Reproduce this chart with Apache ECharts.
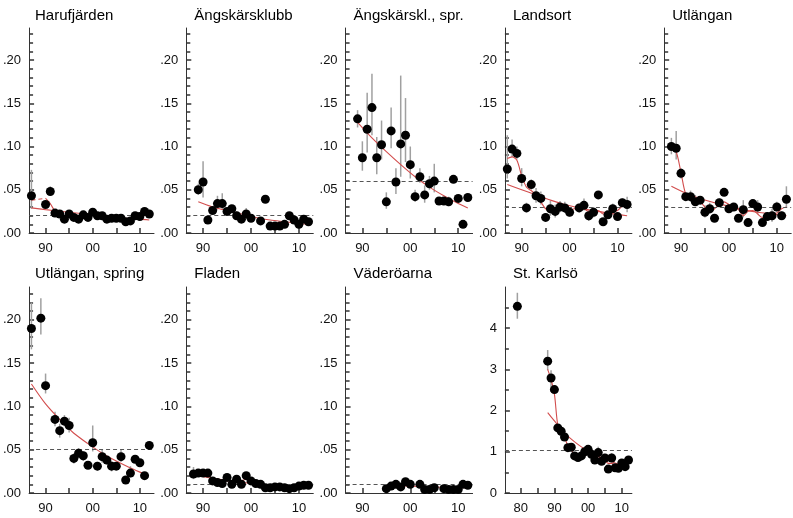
<!DOCTYPE html>
<html><head><meta charset="utf-8">
<script src="https://cdn.jsdelivr.net/npm/echarts@6/dist/echarts.min.js"></script>
<style>html,body{margin:0;padding:0;background:#fff}#c{width:793px;height:518px}</style>
</head><body><div id="c"></div>
<script>
// ---------- Tick / label positions ----------
const propLabels = [0, 0.05, 0.10, 0.15, 0.20];
const propMinor = [0.01,0.02,0.03,0.04,0.06,0.07,0.08,0.09,0.11,0.12,0.13,0.14,0.16,0.17,0.18,0.19,0.21,0.22,0.23];
const karlLabels = [0, 1, 2, 3, 4];
const karlMinor = [0.5, 1.5, 2.5, 3.5, 4.5];
const yearTicks = [1990, 1995, 2000, 2005, 2010];
const yearLabels = [1990, 2000, 2010];
const karlYearTicks = [1980, 1985, 1990, 1995, 2000, 2005, 2010];
const karlYearLabels = [1980, 1990, 2000, 2010];

// ---------- Harufjärden ----------
const haruYears = [1987,1990,1991,1992,1993,1994,1995,1996,1997,1998,1999,2000,2001,2002,2003,2004,2005,2006,2007,2008,2009,2010,2011,2012];
const haruVals  = [0.043,0.033,0.048,0.023,0.022,0.016,0.022,0.018,0.016,0.021,0.018,0.024,0.020,0.020,0.016,0.017,0.017,0.017,0.013,0.014,0.020,0.019,0.025,0.022];
const haruLo    = [0.028,0.030,0.043,0.021,0.020,0.014,0.020,0.016,0.014,0.019,0.016,0.022,0.018,0.018,0.014,0.015,0.015,0.015,0.011,0.012,0.018,0.017,0.022,0.020];
const haruHi    = [0.073,0.036,0.054,0.025,0.024,0.018,0.024,0.020,0.018,0.023,0.020,0.026,0.022,0.022,0.018,0.019,0.019,0.019,0.015,0.016,0.022,0.021,0.028,0.024];
const haruRef = 0.021;
const haruFitX = [1987,1990,1995,2000,2005,2010,2012];
const haruFitY = [0.029,0.027,0.024,0.021,0.018,0.016,0.015];
const haruSmX  = [1990,1991,1992,1993,1994,1995,1996,1997,1998,1999,2000,2001,2002,2003,2004,2005,2006,2007,2008,2009,2010,2011,2012];
const haruSmY  = [0.040,0.034,0.025,0.021,0.019,0.019,0.018,0.018,0.019,0.020,0.021,0.020,0.019,0.018,0.017,0.017,0.016,0.015,0.016,0.018,0.020,0.022,0.022];
const haruGapX = [1987,1990];
const haruGapY = [0.038,0.040];

// ---------- Ängskärsklubb ----------
const angYears = [1989,1990,1991,1992,1993,1994,1995,1996,1997,1998,1999,2000,2002,2003,2004,2005,2006,2007,2008,2009,2010,2011,2012];
const angVals  = [0.050,0.059,0.015,0.026,0.034,0.034,0.025,0.028,0.020,0.016,0.022,0.017,0.014,0.039,0.008,0.008,0.008,0.010,0.020,0.015,0.010,0.016,0.013];
const angLo    = [0.044,0.041,0.013,0.023,0.027,0.027,0.022,0.024,0.016,0.013,0.018,0.015,0.012,0.037,0.007,0.007,0.007,0.009,0.018,0.013,0.009,0.014,0.011];
const angHi    = [0.057,0.083,0.017,0.030,0.043,0.046,0.028,0.032,0.025,0.019,0.029,0.019,0.016,0.041,0.009,0.009,0.009,0.011,0.022,0.017,0.011,0.018,0.015];
const angRef = 0.019;
const angFitX = [1989,1992,1995,1998,2001,2004,2007,2010,2012];
const angFitY = [0.036,0.030,0.026,0.022,0.018,0.015,0.013,0.011,0.010];

// ---------- Ängskärskl., spr. ----------
const angsYears = [1989,1990,1991,1992,1993,1994,1995,1996,1997,1998,1999,2000,2001,2002,2003,2004,2005,2006,2007,2008,2009,2010,2011,2012];
const angsVals  = [0.132,0.087,0.120,0.145,0.087,0.102,0.036,0.118,0.059,0.103,0.113,0.079,0.042,0.065,0.044,0.057,0.060,0.037,0.037,0.036,0.062,0.040,0.010,0.041];
const angsLo    = [0.122,0.072,0.093,0.113,0.068,0.085,0.028,0.098,0.045,0.065,0.082,0.063,0.036,0.058,0.035,0.050,0.047,0.034,0.033,0.031,0.059,0.037,0.008,0.038];
const angsHi    = [0.142,0.106,0.162,0.184,0.111,0.130,0.047,0.145,0.075,0.182,0.156,0.100,0.050,0.075,0.055,0.066,0.080,0.040,0.040,0.042,0.065,0.044,0.012,0.044];
const angsRef = 0.061;
const angsFitX = [1989,1992,1995,1998,2001,2004,2007,2010,2012];
const angsFitY = [0.128,0.110,0.094,0.079,0.065,0.053,0.043,0.034,0.029];

// ---------- Landsort ----------
const landYears = [1987,1988,1989,1990,1991,1992,1993,1994,1995,1996,1997,1998,1999,2000,2002,2003,2004,2005,2006,2007,2008,2009,2010,2011,2012];
const landVals  = [0.074,0.097,0.092,0.063,0.029,0.056,0.043,0.040,0.018,0.028,0.025,0.030,0.029,0.024,0.029,0.032,0.020,0.024,0.044,0.013,0.021,0.028,0.019,0.035,0.033];
const landLo    = [0.063,0.088,0.085,0.054,0.024,0.050,0.035,0.033,0.014,0.020,0.018,0.024,0.023,0.019,0.024,0.026,0.014,0.018,0.040,0.010,0.018,0.023,0.016,0.030,0.024];
const landHi    = [0.113,0.108,0.100,0.075,0.035,0.062,0.052,0.048,0.023,0.037,0.033,0.037,0.036,0.030,0.034,0.040,0.027,0.030,0.048,0.016,0.025,0.034,0.023,0.040,0.042];
const landRef = 0.033;
const landFitX = [1987,1990,1993,1996,1999,2002,2005,2008,2012];
const landFitY = [0.056,0.050,0.044,0.038,0.033,0.029,0.026,0.023,0.020];
const landSmX  = [1987,1988,1989,1990,1991,1992,1993,1994,1995,1996,1997,1998,1999,2000,2002,2003,2004,2005,2006,2007,2008,2009,2010,2011,2012];
const landSmY  = [0.086,0.088,0.084,0.066,0.053,0.049,0.044,0.036,0.028,0.026,0.027,0.029,0.028,0.027,0.029,0.028,0.025,0.026,0.026,0.022,0.022,0.024,0.026,0.031,0.035];

// ---------- Utlängan ----------
const utlYears = [1988,1989,1990,1991,1992,1993,1994,1995,1996,1997,1998,1999,2000,2001,2002,2003,2004,2005,2006,2007,2008,2009,2010,2011,2012];
const utlVals  = [0.100,0.098,0.069,0.042,0.042,0.036,0.038,0.024,0.028,0.017,0.035,0.047,0.028,0.030,0.017,0.027,0.012,0.034,0.030,0.012,0.019,0.020,0.030,0.020,0.039];
const utlLo    = [0.091,0.085,0.063,0.038,0.036,0.032,0.034,0.018,0.022,0.014,0.030,0.043,0.024,0.026,0.014,0.018,0.010,0.029,0.022,0.010,0.015,0.013,0.025,0.015,0.030];
const utlHi    = [0.110,0.118,0.075,0.046,0.049,0.044,0.042,0.032,0.035,0.020,0.040,0.052,0.033,0.034,0.020,0.038,0.015,0.039,0.038,0.014,0.024,0.028,0.036,0.025,0.054];
const utlRef = 0.031;
const utlFitX = [1988,1991,1994,1997,2000,2003,2006,2009,2012];
const utlFitY = [0.054,0.046,0.040,0.035,0.031,0.027,0.024,0.022,0.020];
const utlSmX  = utlYears;
const utlSmY  = [0.100,0.094,0.070,0.045,0.042,0.039,0.036,0.030,0.025,0.028,0.033,0.036,0.033,0.030,0.027,0.020,0.025,0.026,0.022,0.018,0.019,0.022,0.023,0.028,0.030];

// ---------- Utlängan, spring ----------
const utsYears = [1987,1989,1990,1992,1993,1994,1995,1996,1997,1998,1999,2000,2001,2002,2003,2004,2005,2006,2007,2008,2009,2010,2011,2012];
const utsVals  = [0.190,0.202,0.124,0.085,0.072,0.083,0.078,0.040,0.046,0.043,0.032,0.058,0.031,0.042,0.038,0.031,0.031,0.042,0.015,0.023,0.039,0.035,0.020,0.055];
const utsLo    = [0.166,0.183,0.115,0.077,0.064,0.077,0.070,0.034,0.040,0.037,0.029,0.048,0.026,0.035,0.033,0.025,0.028,0.036,0.011,0.018,0.036,0.032,0.018,0.053];
const utsHi    = [0.220,0.225,0.138,0.094,0.080,0.090,0.087,0.046,0.052,0.048,0.034,0.078,0.036,0.050,0.043,0.037,0.034,0.050,0.019,0.031,0.042,0.038,0.022,0.057];
const utsRef = 0.049;
const utsFitX = [1987,1990,1993,1996,1999,2002,2005,2008,2011];
const utsFitY = [0.126,0.103,0.085,0.069,0.057,0.046,0.037,0.029,0.022];

// ---------- Fladen ----------
const flaYears = [1988,1989,1990,1991,1992,1993,1994,1995,1996,1997,1998,1999,2000,2001,2002,2003,2004,2005,2006,2007,2008,2009,2010,2011,2012];
const flaVals  = [0.022,0.023,0.023,0.023,0.014,0.012,0.011,0.018,0.010,0.016,0.010,0.020,0.014,0.011,0.010,0.006,0.006,0.007,0.007,0.006,0.005,0.006,0.008,0.009,0.009];
const flaLo    = [0.016,0.021,0.021,0.021,0.012,0.010,0.009,0.016,0.008,0.014,0.008,0.018,0.012,0.009,0.008,0.005,0.005,0.006,0.006,0.005,0.004,0.005,0.007,0.008,0.008];
const flaHi    = [0.030,0.025,0.025,0.025,0.016,0.014,0.013,0.020,0.012,0.018,0.012,0.022,0.016,0.013,0.012,0.007,0.007,0.008,0.008,0.007,0.006,0.007,0.009,0.010,0.010];
const flaRef = 0.010;
const flaFitX = [1988,1992,1996,2000,2004,2008,2012];
const flaFitY = [0.021,0.017,0.014,0.011,0.009,0.008,0.007];
const flaSmX  = flaYears;
const flaSmY  = [0.023,0.023,0.023,0.021,0.016,0.013,0.013,0.014,0.013,0.014,0.014,0.016,0.014,0.011,0.009,0.007,0.006,0.006,0.006,0.006,0.006,0.006,0.007,0.008,0.009];

// ---------- Väderöarna ----------
const vadYears = [1995,1996,1997,1998,1999,2000,2002,2003,2004,2005,2007,2008,2009,2010,2011,2012];
const vadVals  = [0.005,0.008,0.010,0.007,0.013,0.010,0.010,0.004,0.004,0.006,0.005,0.004,0.004,0.004,0.010,0.009];
const vadLo    = [0.004,0.007,0.009,0.006,0.012,0.009,0.009,0.003,0.003,0.005,0.004,0.003,0.003,0.003,0.009,0.008];
const vadHi    = [0.006,0.009,0.011,0.008,0.014,0.011,0.011,0.005,0.005,0.007,0.006,0.005,0.005,0.005,0.011,0.010];
const vadRef = 0.007;
const vadFitX = [1995,2000,2005,2012];
const vadFitY = [0.009,0.008,0.007,0.006];

// ---------- St. Karlsö ----------
const karlYears = [1979,1988,1989,1990,1991,1992,1993,1994,1995,1996,1997,1998,1999,2000,2001,2002,2003,2004,2005,2006,2007,2008,2009,2010,2011,2012];
const karlVals  = [4.53,3.20,2.79,2.51,1.58,1.50,1.36,1.10,1.11,0.90,0.86,0.90,1.00,1.06,0.94,0.80,0.98,0.77,0.85,0.58,0.85,0.61,0.60,0.73,0.64,0.80];
const karlLo    = [4.23,2.98,2.45,2.40,1.52,1.45,1.30,1.04,1.04,0.85,0.81,0.85,0.94,0.98,0.88,0.74,0.88,0.72,0.75,0.54,0.75,0.57,0.56,0.68,0.60,0.75];
const karlHi    = [4.86,3.47,2.98,2.60,1.64,1.56,1.42,1.16,1.18,0.95,0.91,0.95,1.06,1.12,1.00,0.86,1.12,0.82,0.95,0.62,0.97,0.66,0.64,0.78,0.68,0.86];
const karlRef = 1.03;
const karlFitX = [1988,1990,1992,1994,1996,1998,2000,2002,2004,2006,2008,2010,2012];
const karlFitY = [1.95,1.75,1.55,1.38,1.24,1.12,1.02,0.93,0.86,0.79,0.73,0.68,0.64];
const karlSmX  = karlYears.slice(1);
const karlSmY  = [3.00,2.75,2.40,1.65,1.50,1.35,1.15,1.05,0.92,0.88,0.92,1.00,1.02,0.93,0.87,0.88,0.82,0.78,0.72,0.72,0.66,0.64,0.66,0.70,0.75];

// ---------- Build ----------
const zip = (a, b) => a.map((x, i) => [x, b[i]]);
const zip3 = (a, b, c) => a.map((x, i) => [x, b[i], c[i]]);

const panels = [
  {title:'Harufjärden', x:haruYears, v:haruVals, lo:haruLo, hi:haruHi, ref:haruRef, lines:[[haruFitX,haruFitY],[haruSmX,haruSmY]], dashed:[[haruGapX,haruGapY]]},
  {title:'Ängskärsklubb', x:angYears, v:angVals, lo:angLo, hi:angHi, ref:angRef, lines:[[angFitX,angFitY]]},
  {title:'Ängskärskl., spr.', x:angsYears, v:angsVals, lo:angsLo, hi:angsHi, ref:angsRef, lines:[[angsFitX,angsFitY]]},
  {title:'Landsort', x:landYears, v:landVals, lo:landLo, hi:landHi, ref:landRef, lines:[[landFitX,landFitY],[landSmX,landSmY]]},
  {title:'Utlängan', x:utlYears, v:utlVals, lo:utlLo, hi:utlHi, ref:utlRef, lines:[[utlFitX,utlFitY],[utlSmX,utlSmY]]},
  {title:'Utlängan, spring', x:utsYears, v:utsVals, lo:utsLo, hi:utsHi, ref:utsRef, lines:[[utsFitX,utsFitY]]},
  {title:'Fladen', x:flaYears, v:flaVals, lo:flaLo, hi:flaHi, ref:flaRef, lines:[[flaFitX,flaFitY],[flaSmX,flaSmY]]},
  {title:'Väderöarna', x:vadYears, v:vadVals, lo:vadLo, hi:vadHi, ref:vadRef, lines:[[vadFitX,vadFitY]]},
  {title:'St. Karlsö', x:karlYears, v:karlVals, lo:karlLo, hi:karlHi, ref:karlRef, lines:[[karlFitX,karlFitY],[karlSmX,karlSmY]], karl:true}
];

const FONT = '"Liberation Sans", Arial, Helvetica, sans-serif';
const AX = '#333';
const RED = '#d24d4d';
const grids = [], xAxes = [], yAxes = [], series = [], titles = [];

panels.forEach((p, i) => {
  const col = i % 5, row = Math.floor(i / 5);
  const left = 27 + col * 159.3;
  const top = row === 0 ? 28 : 287;
  const height = row === 0 ? 205 : 206;
  const ymax = p.karl ? 5 : (row === 0 ? 0.237 : 0.238);
  grids.push({left: left, top: top, width: 127, height: height});
  titles.push({text: p.title, left: left + 3, top: row === 0 ? 3 : 261,
    textStyle: {fontSize: 15, fontWeight: 'normal', color: '#000', fontFamily: FONT}});
  xAxes.push({
    gridIndex: i, type: 'value', min: p.karl ? 1975.3 : 1986.5, max: 2013,
    axisLine: {show: true, onZero: false, lineStyle: {color: AX}},
    splitLine: {show: false},
    axisTick: {show: true, inside: true, length: 5, customValues: p.karl ? karlYearTicks : yearTicks, lineStyle: {color: AX, width: 1.5}},
    axisLabel: {customValues: p.karl ? karlYearLabels : yearLabels, margin: 9, fontSize: 13, color: '#111', fontFamily: FONT,
      formatter: v => String(Math.round(v) % 100).padStart(2, '0')}
  });
  const fmt = p.karl ? (v => String(Math.round(v))) : (v => '.' + String(Math.round(v * 100)).padStart(2, '0'));
  yAxes.push({
    gridIndex: i, type: 'value', min: 0, max: ymax,
    axisLine: {show: true, lineStyle: {color: AX}},
    splitLine: {show: false},
    axisTick: {show: true, inside: true, length: 5, customValues: p.karl ? karlLabels : propLabels, lineStyle: {color: AX, width: 1.5}},
    axisLabel: {customValues: p.karl ? karlLabels : propLabels, margin: 8, fontSize: 13, color: '#111', fontFamily: FONT, formatter: fmt}
  });
  const yi = i;
  series.push({
    type: 'custom', xAxisIndex: i, yAxisIndex: yi, z: 2, silent: true,
    data: zip3(p.x, p.lo, p.hi), encode: {x: 0, y: [1, 2]},
    renderItem: (params, api) => {
      const a = api.coord([api.value(0), api.value(1)]);
      const b = api.coord([api.value(0), api.value(2)]);
      return {type: 'line', shape: {x1: a[0], y1: a[1], x2: b[0], y2: b[1]},
        style: {stroke: '#a0a0a0', lineWidth: 1.5}};
    },
    markLine: {silent: true, symbol: ['none', 'none'], label: {show: false},
      lineStyle: {type: [4, 3], color: '#555', width: 1}, data: [{yAxis: p.ref}]}
  });
  p.lines.forEach(l => {
    series.push({type: 'line', xAxisIndex: i, yAxisIndex: yi, z: 3, silent: true, symbol: 'none', smooth: 0.3,
      lineStyle: {color: RED, width: 1.1}, data: zip(l[0], l[1])});
  });
  (p.dashed || []).forEach(l => {
    series.push({type: 'line', xAxisIndex: i, yAxisIndex: yi, z: 3, silent: true, symbol: 'none',
      lineStyle: {color: RED, width: 1.1, type: [4, 3]}, data: zip(l[0], l[1])});
  });
  series.push({type: 'scatter', xAxisIndex: i, yAxisIndex: yi, z: 5, symbolSize: 9, silent: true,
    itemStyle: {color: '#000', opacity: 1}, data: zip(p.x, p.v)});
});

// minor y ticks: extra overlaid axes placed after all main axes
panels.forEach((p, i) => {
  const row = Math.floor(i / 5);
  const ymax = p.karl ? 5 : (row === 0 ? 0.237 : 0.238);
  yAxes.push({
    gridIndex: i, type: 'value', position: 'left', offset: 0, min: 0, max: ymax,
    axisLine: {show: false}, splitLine: {show: false}, axisLabel: {show: false},
    axisTick: {show: true, inside: true, length: 4, customValues: p.karl ? karlMinor : propMinor, lineStyle: {color: AX, width: 1.5}}
  });
});

const chart = echarts.init(document.getElementById('c'));
chart.setOption({animation: false, backgroundColor: '#fff', title: titles, grid: grids, xAxis: xAxes, yAxis: yAxes, series: series});
</script></body></html>
